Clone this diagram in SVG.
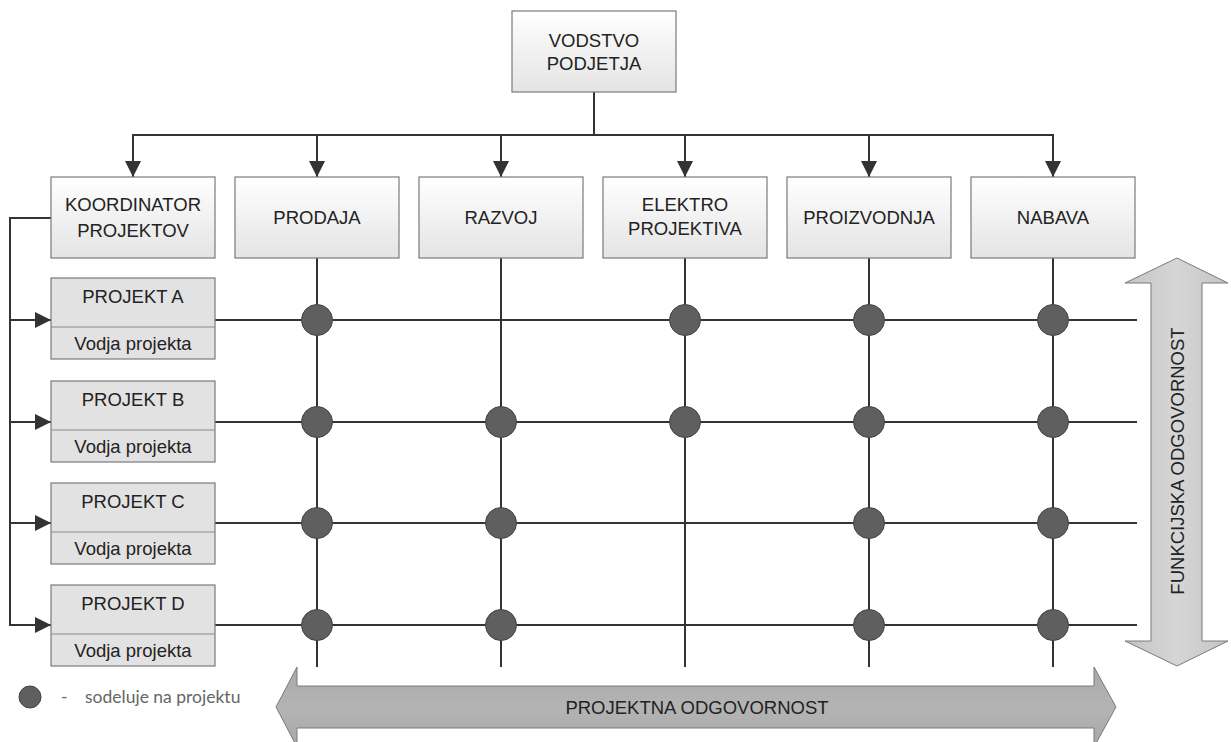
<svg xmlns="http://www.w3.org/2000/svg" width="1231" height="742" viewBox="0 0 1231 742">
  <defs>
    <linearGradient id="boxGrad" x1="0" y1="0" x2="0" y2="1">
      <stop offset="0" stop-color="#ffffff"/>
      <stop offset="1" stop-color="#e4e4e4"/>
    </linearGradient>
    <linearGradient id="vArrowGrad" x1="0" y1="0" x2="1" y2="0">
      <stop offset="0" stop-color="#c4c4c4"/>
      <stop offset="0.5" stop-color="#d6d6d6"/>
      <stop offset="1" stop-color="#c4c4c4"/>
    </linearGradient>
    <linearGradient id="hArrowGrad" x1="0" y1="0" x2="0" y2="1">
      <stop offset="0" stop-color="#a8a8a8"/>
      <stop offset="0.5" stop-color="#b4b4b4"/>
      <stop offset="1" stop-color="#a8a8a8"/>
    </linearGradient>
    <marker id="arrowBig" viewBox="0 0 16 16" refX="16" refY="8" markerWidth="16" markerHeight="16" markerUnits="userSpaceOnUse" orient="auto">
      <path d="M0,0 L16,8 L0,16 z" fill="#333"/>
    </marker>
  </defs>
  <style>
    .box { fill: url(#boxGrad); stroke: #7a7a7a; stroke-width: 1.2; }
    .pbox { fill: #e2e2e2; stroke: #7a7a7a; stroke-width: 1.2; }
    .div { stroke: #8a8a8a; stroke-width: 1.2; }
    .lbl { font-family: "Liberation Sans", Arial, sans-serif; font-size: 18.5px; fill: #222; text-anchor: middle; }
    .line { stroke: #333; stroke-width: 2; fill: none; }
    .dot { fill: #5f5f5f; stroke: #444; stroke-width: 1; }
    .legend { font-family: Lato, "Open Sans", sans-serif; font-size: 17.5px; fill: #666; }
  </style>

  <!-- connectors: hierarchy, grid lines and project links -->
  <g id="connectors">
    <line class="line" x1="594" y1="92" x2="594" y2="135"/>
    <line class="line" x1="132" y1="135" x2="1054" y2="135"/>
    <line class="line" x1="133" y1="135" x2="133" y2="177" marker-end="url(#arrowBig)"/>
    <line class="line" x1="317" y1="135" x2="317" y2="177" marker-end="url(#arrowBig)"/>
    <line class="line" x1="501" y1="135" x2="501" y2="177" marker-end="url(#arrowBig)"/>
    <line class="line" x1="685" y1="135" x2="685" y2="177" marker-end="url(#arrowBig)"/>
    <line class="line" x1="869" y1="135" x2="869" y2="177" marker-end="url(#arrowBig)"/>
    <line class="line" x1="1053" y1="135" x2="1053" y2="177" marker-end="url(#arrowBig)"/>

    <!-- coordinator bracket -->
    <polyline class="line" points="51,218 10,218 10,625"/>
    <line class="line" x1="10" y1="320" x2="51" y2="320" marker-end="url(#arrowBig)"/>
    <line class="line" x1="10" y1="422" x2="51" y2="422" marker-end="url(#arrowBig)"/>
    <line class="line" x1="10" y1="523" x2="51" y2="523" marker-end="url(#arrowBig)"/>
    <line class="line" x1="9" y1="625" x2="51" y2="625" marker-end="url(#arrowBig)"/>

    <!-- function columns -->
    <line class="line" x1="317" y1="258" x2="317" y2="667"/>
    <line class="line" x1="501" y1="258" x2="501" y2="667"/>
    <line class="line" x1="685" y1="258" x2="685" y2="667"/>
    <line class="line" x1="869" y1="258" x2="869" y2="667"/>
    <line class="line" x1="1053" y1="258" x2="1053" y2="667"/>

    <!-- project rows -->
    <line class="line" x1="215" y1="320" x2="1137" y2="320"/>
    <line class="line" x1="215" y1="422" x2="1137" y2="422"/>
    <line class="line" x1="215" y1="523" x2="1137" y2="523"/>
    <line class="line" x1="215" y1="625" x2="1137" y2="625"/>
  </g>

  <!-- participation dots -->
  <g id="dots">
    <circle class="dot" cx="317" cy="320" r="15.5"/>
    <circle class="dot" cx="685" cy="320" r="15.5"/>
    <circle class="dot" cx="869" cy="320" r="15.5"/>
    <circle class="dot" cx="1053" cy="320" r="15.5"/>

    <circle class="dot" cx="317" cy="422" r="15.5"/>
    <circle class="dot" cx="501" cy="422" r="15.5"/>
    <circle class="dot" cx="685" cy="422" r="15.5"/>
    <circle class="dot" cx="869" cy="422" r="15.5"/>
    <circle class="dot" cx="1053" cy="422" r="15.5"/>

    <circle class="dot" cx="317" cy="523" r="15.5"/>
    <circle class="dot" cx="501" cy="523" r="15.5"/>
    <circle class="dot" cx="869" cy="523" r="15.5"/>
    <circle class="dot" cx="1053" cy="523" r="15.5"/>

    <circle class="dot" cx="317" cy="625" r="15.5"/>
    <circle class="dot" cx="501" cy="625" r="15.5"/>
    <circle class="dot" cx="869" cy="625" r="15.5"/>
    <circle class="dot" cx="1053" cy="625" r="15.5"/>
  </g>

  <g id="vodstvo">
    <rect class="box" x="512" y="11" width="164" height="81"/>
    <text class="lbl" x="594" y="47">VODSTVO</text>
    <text class="lbl" x="594" y="70">PODJETJA</text>
  </g>

  <g id="koordinator">
    <rect class="box" x="51" y="177" width="164" height="81"/>
    <text class="lbl" x="133" y="211">KOORDINATOR</text>
    <text class="lbl" x="133" y="237">PROJEKTOV</text>
  </g>
  <g id="prodaja">
    <rect class="box" x="235" y="177" width="164" height="81"/>
    <text class="lbl" x="317" y="224">PRODAJA</text>
  </g>
  <g id="razvoj">
    <rect class="box" x="419" y="177" width="164" height="81"/>
    <text class="lbl" x="501" y="224">RAZVOJ</text>
  </g>
  <g id="elektro">
    <rect class="box" x="603" y="177" width="164" height="81"/>
    <text class="lbl" x="685" y="211">ELEKTRO</text>
    <text class="lbl" x="685" y="235">PROJEKTIVA</text>
  </g>
  <g id="proizvodnja">
    <rect class="box" x="787" y="177" width="164" height="81"/>
    <text class="lbl" x="869" y="224">PROIZVODNJA</text>
  </g>
  <g id="nabava">
    <rect class="box" x="971" y="177" width="164" height="81"/>
    <text class="lbl" x="1053" y="224">NABAVA</text>
  </g>

  <g id="projekt-a">
    <rect class="pbox" x="51" y="278" width="164" height="81"/>
    <line class="div" x1="51" y1="327" x2="215" y2="327"/>
    <text class="lbl" x="133" y="303">PROJEKT A</text>
    <text class="lbl" x="133" y="350">Vodja projekta</text>
  </g>
  <g id="projekt-b">
    <rect class="pbox" x="51" y="381" width="164" height="81"/>
    <line class="div" x1="51" y1="430" x2="215" y2="430"/>
    <text class="lbl" x="133" y="406">PROJEKT B</text>
    <text class="lbl" x="133" y="453">Vodja projekta</text>
  </g>
  <g id="projekt-c">
    <rect class="pbox" x="51" y="483" width="164" height="81"/>
    <line class="div" x1="51" y1="532" x2="215" y2="532"/>
    <text class="lbl" x="133" y="508">PROJEKT C</text>
    <text class="lbl" x="133" y="555">Vodja projekta</text>
  </g>
  <g id="projekt-d">
    <rect class="pbox" x="51" y="585" width="164" height="81"/>
    <line class="div" x1="51" y1="634" x2="215" y2="634"/>
    <text class="lbl" x="133" y="610">PROJEKT D</text>
    <text class="lbl" x="133" y="657">Vodja projekta</text>
  </g>

  <!-- functional responsibility (vertical double arrow) -->
  <g id="funkcijska">
    <path d="M1177,258 L1228,283 L1202,283 L1202,641 L1228,641 L1177,666 L1125,641 L1151,641 L1151,283 L1125,283 Z" fill="url(#vArrowGrad)" stroke="#7a7a7a" stroke-width="1"/>
    <text class="lbl" transform="translate(1184,461) rotate(-90)">FUNKCIJSKA ODGOVORNOST</text>
  </g>

  <!-- project responsibility (horizontal double arrow) -->
  <g id="projektna">
    <path d="M276,707 L297,667 L297,686 L1094,686 L1094,667 L1116,707 L1094,747 L1094,728 L297,728 L297,747 Z" fill="url(#hArrowGrad)" stroke="#7a7a7a" stroke-width="1"/>
    <text class="lbl" x="697" y="714">PROJEKTNA ODGOVORNOST</text>
  </g>

  <!-- legend -->
  <g id="legend">
    <circle class="dot" cx="30" cy="697" r="11"/>
    <text class="legend" x="61" y="703">-</text>
    <text class="legend" x="85" y="703">sodeluje na projektu</text>
  </g>
</svg>
